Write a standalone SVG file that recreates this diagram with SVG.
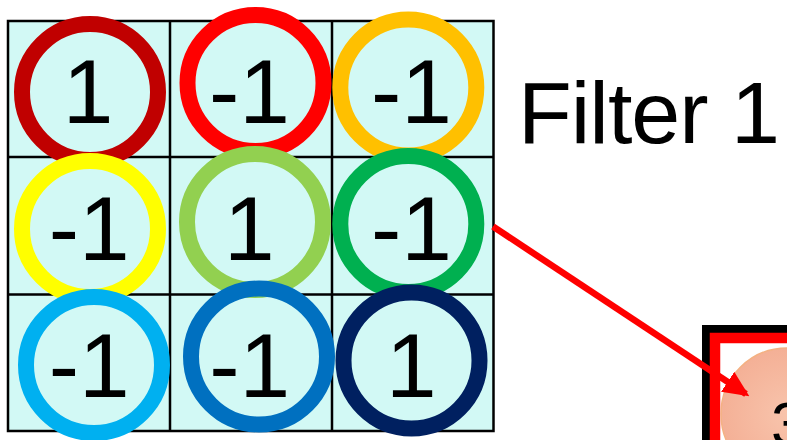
<svg xmlns="http://www.w3.org/2000/svg" width="787" height="440" viewBox="0 0 787 440">
  <style>
    .ring { fill: none; stroke-width: 16; }
    .num { font-family: "Liberation Sans", Arial, sans-serif; font-size: 91px; fill: #000000; }
    .grid { stroke: #000000; stroke-width: 2.5; fill: none; }
    .title { font-family: "Liberation Sans", Arial, sans-serif; font-size: 88px; fill: #000000; }
  </style>
  <defs>
    <radialGradient id="salmon" cx="0.5" cy="0.5" r="0.5">
      <stop offset="0" stop-color="#F8C4AC"/>
      <stop offset="1" stop-color="#F4B096"/>
    </radialGradient>
    <marker id="arrowhead" markerUnits="userSpaceOnUse" markerWidth="26" markerHeight="24" refX="22" refY="12" orient="auto">
      <polygon points="0,0 26,12 0,24" fill="#FF0000"/>
    </marker>
  </defs>

  <rect x="0" y="0" width="787" height="440" fill="#FFFFFF"/>

  <g id="grid">
    <rect x="8" y="21" width="485.5" height="410" fill="#D2F9F5"/>
    <path class="grid" d="M8,21 H493.5 V431 H8 Z M170,21 V431 M332,21 V431 M8,157 H493.5 M8,294.5 H493.5"/>
  </g>

  <g id="cell-1-1">
    <circle class="ring" cx="90" cy="92" r="68" stroke="#C00000"/>
    <text class="num" x="62.8" y="123">1</text>
  </g>
  <g id="cell-1-2">
    <circle class="ring" cx="255.5" cy="83" r="68" stroke="#FF0000"/>
    <text class="num" x="209" y="123">-1</text>
  </g>
  <g id="cell-1-3">
    <circle class="ring" cx="408.3" cy="87.5" r="68" stroke="#FFC000"/>
    <text class="num" x="371" y="123">-1</text>
  </g>
  <g id="cell-2-1">
    <circle class="ring" cx="90" cy="229" r="68" stroke="#FFFF00"/>
    <text class="num" x="48.7" y="260">-1</text>
  </g>
  <g id="cell-2-2">
    <circle class="ring" cx="255" cy="222" r="68" stroke="#92D050"/>
    <text class="num" x="224" y="260">1</text>
  </g>
  <g id="cell-2-3">
    <circle class="ring" cx="408.3" cy="224" r="68" stroke="#00B050"/>
    <text class="num" x="371" y="260">-1</text>
  </g>
  <g id="cell-3-1">
    <circle class="ring" cx="94" cy="365" r="68" stroke="#00B0F0"/>
    <text class="num" x="48.7" y="396.7">-1</text>
  </g>
  <g id="cell-3-2">
    <circle class="ring" cx="259" cy="356.5" r="68" stroke="#0070C0"/>
    <text class="num" x="209.3" y="396.7">-1</text>
  </g>
  <g id="cell-3-3">
    <circle class="ring" cx="411.5" cy="360.5" r="68" stroke="#002060"/>
    <text class="num" x="386" y="396.7">1</text>
  </g>

  <g id="filter-label">
    <text class="title" x="518" y="143.3" textLength="262" lengthAdjust="spacing">Filter 1</text>
  </g>

  <g id="output-box">
    <rect x="706" y="329" width="90" height="120" fill="#FFFFFF" stroke="#000000" stroke-width="8"/>
    <rect x="715" y="338" width="80" height="110" fill="#FFFFFF" stroke="#FF0000" stroke-width="10.5"/>
    <circle cx="787" cy="414" r="66" fill="url(#salmon)" stroke="#F4B183" stroke-width="1.5"/>
    <text class="num" style="font-size:62px" x="771" y="445">3</text>
  </g>

  <g id="connectors">
    <line x1="493" y1="226.5" x2="746" y2="394" stroke="#FF0000" stroke-width="6.5" marker-end="url(#arrowhead)"/>
  </g>
</svg>
